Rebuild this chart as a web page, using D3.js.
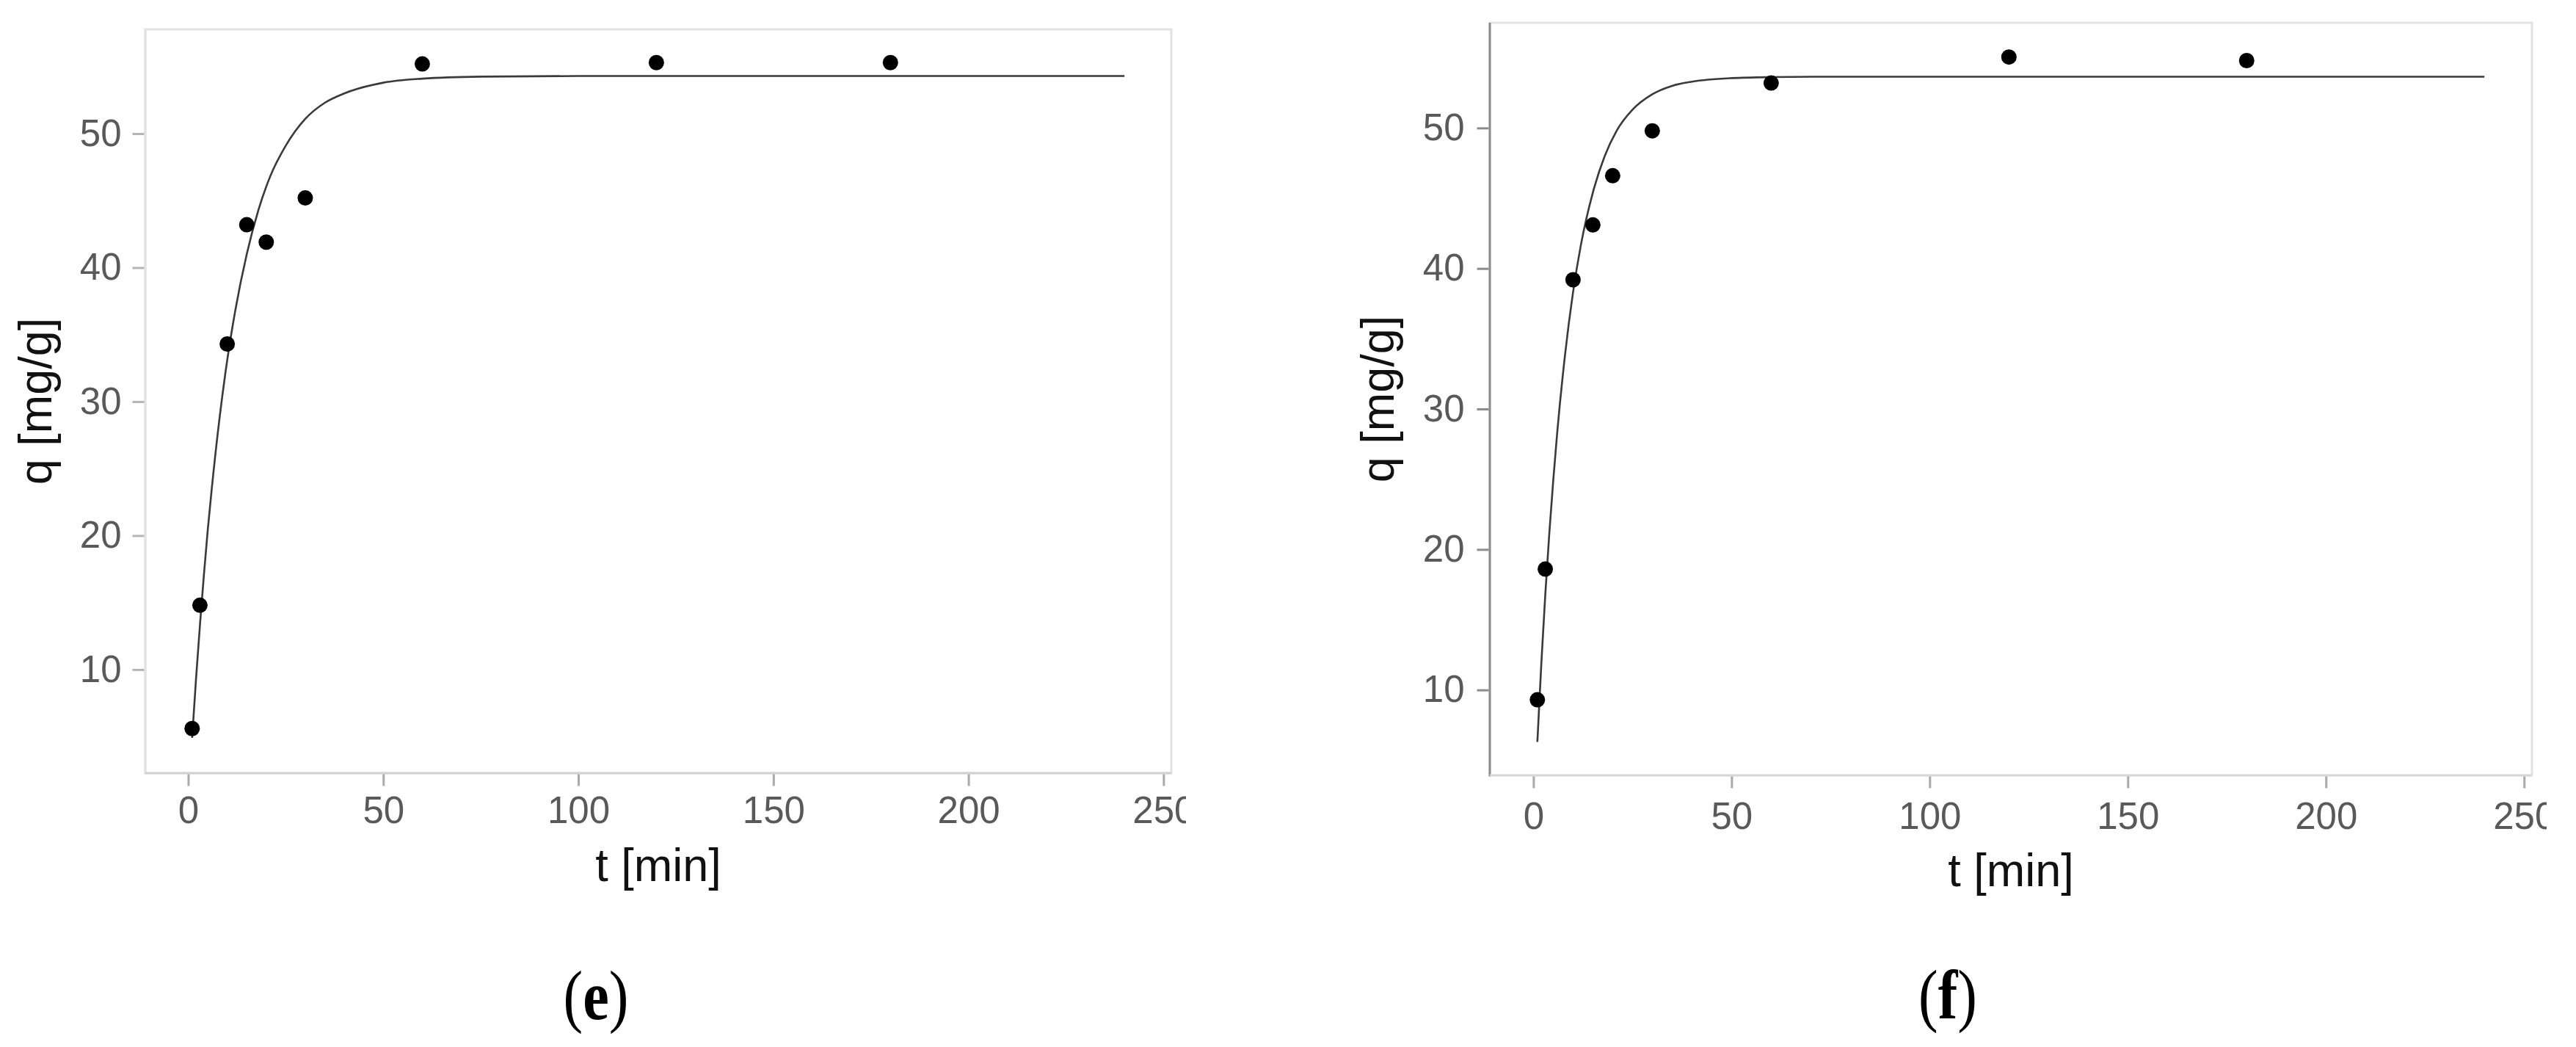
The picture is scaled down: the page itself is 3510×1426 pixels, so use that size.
<!DOCTYPE html>
<html lang="en">
  <head>
    <meta charset="UTF-8" />
    <title>Kinetics q vs t (e), (f)</title>
    <script src="https://d3js.org/d3.v7.min.js"></script>
    <style>
      body {
        margin: 0;
        background: #fff;
      }
      svg text {
        font-family: "Liberation Sans", Arial, sans-serif;
      }
      .tick text {
        fill: #595959;
      }
      .axis-title {
        fill: #111;
      }
      .panel-label {
        font-family: "Liberation Serif", "Times New Roman", serif !important;
        fill: #000;
      }
    </style>
  </head>
  <body>
    <svg width="3510" height="1426"></svg>

    <script>
      // measured data points (t in min, q in mg/g)
      const timeE = [1, 3, 10, 15, 20, 30, 60, 120, 180];
      const qE = [5.6, 14.8, 34.3, 43.2, 41.9, 45.2, 55.2, 55.3, 55.3];

      const timeF = [1, 3, 10, 15, 20, 30, 60, 120, 180];
      const qF = [9.3, 18.6, 39.2, 43.1, 46.6, 49.8, 53.2, 55.05, 54.8];

      // fitted curves
      const fitTime = [1, 2, 3, 4, 5, 6, 8, 10, 12, 15, 18, 21, 25, 30, 35, 40, 50, 60, 75, 100, 150, 200, 240];
      const fitE = [4.9, 9.3, 13.3, 17.0, 20.4, 23.4, 28.7, 33.1, 36.7, 41.0, 44.3, 46.8, 49.1, 51.1, 52.3, 53.0, 53.8, 54.1, 54.25, 54.3, 54.3, 54.3, 54.3];
      const fitF = [6.3, 11.9, 16.8, 21.1, 24.9, 28.3, 33.9, 38.3, 41.7, 45.4, 48.0, 49.8, 51.3, 52.4, 53.0, 53.3, 53.55, 53.62, 53.65, 53.65, 53.65, 53.65, 53.65];

      const xTicks = [0, 50, 100, 150, 200, 250];
      const yTicks = [10, 20, 30, 40, 50];

      const svg = d3.select("svg");

      const panels = [
        {
          id: "e",
          time: timeE, q: qE, fit: fitE,
          left: 198, right: 1596, top: 40, bottom: 1053,
          xDomain: [-11, 252], yDomain: [2.27, 57.78],
          clipLeft: 0, clipRight: 1616,
          xPad: 14, yPad: 15,
          yTitleX: 70, xTitleY: 1200,
          leftBorder: "#e2e2e2", bottomBorder: "#d2d2d2",
          yTickColor: "#b5b5b5",
          label: { x: 812, y: 1388 },
        },
        {
          id: "f",
          time: timeF, q: qF, fit: fitF,
          left: 2030, right: 3450, top: 31, bottom: 1056,
          xDomain: [-11, 252], yDomain: [3.92, 57.49],
          clipLeft: 1760, clipRight: 3470,
          xPad: 19, yPad: 17,
          yTitleX: 1899, xTitleY: 1207,
          leftBorder: "#8c8c8c", bottomBorder: "#d8d8d8",
          yTickColor: "#8c8c8c",
          label: { x: 2654, y: 1387 },
        },
      ];

      const tickFont = 51;
      const titleFont = 63;

      panels.forEach((p) => {
        const clipId = "clip-" + p.id;
        svg
          .append("clipPath")
          .attr("id", clipId)
          .append("rect")
          .attr("x", p.clipLeft)
          .attr("y", 0)
          .attr("width", p.clipRight - p.clipLeft)
          .attr("height", 1426);

        const g = svg.append("g").attr("clip-path", `url(#${clipId})`);

        const x = d3.scaleLinear().domain(p.xDomain).range([p.left, p.right]);
        const y = d3.scaleLinear().domain(p.yDomain).range([p.bottom, p.top]);

        // panel frame
        g.append("rect")
          .attr("x", p.left)
          .attr("y", p.top)
          .attr("width", p.right - p.left)
          .attr("height", p.bottom - p.top)
          .attr("fill", "none")
          .attr("stroke", "#e2e2e2")
          .attr("stroke-width", 3);

        g.append("line")
          .attr("x1", p.left).attr("x2", p.left)
          .attr("y1", p.top).attr("y2", p.bottom + 1.5)
          .attr("stroke", p.leftBorder)
          .attr("stroke-width", 3);

        g.append("line")
          .attr("x1", p.left).attr("x2", p.right)
          .attr("y1", p.bottom).attr("y2", p.bottom)
          .attr("stroke", p.bottomBorder)
          .attr("stroke-width", 3);

        // x axis
        const xAxis = g
          .append("g")
          .attr("transform", `translate(0,${p.bottom + 1.5})`)
          .call(
            d3.axisBottom(x).tickValues(xTicks).tickSize(16).tickPadding(p.xPad).tickFormat(d3.format("d"))
          );
        xAxis.select(".domain").remove();
        xAxis.selectAll(".tick line").attr("stroke", "#aaaaaa").attr("stroke-width", 3);
        xAxis.selectAll(".tick text").attr("font-size", tickFont);

        // y axis
        const yAxis = g
          .append("g")
          .attr("transform", `translate(${p.left - 1.5},0)`)
          .call(
            d3.axisLeft(y).tickValues(yTicks).tickSize(16).tickPadding(p.yPad).tickFormat(d3.format("d"))
          );
        yAxis.select(".domain").remove();
        yAxis.selectAll(".tick line").attr("stroke", p.yTickColor).attr("stroke-width", 3);
        yAxis.selectAll(".tick text").attr("font-size", tickFont);

        // fitted curve
        const line = d3
          .line()
          .x((d, i) => x(fitTime[i]))
          .y((d) => y(d))
          .curve(d3.curveMonotoneX);

        g.append("path")
          .datum(p.fit)
          .attr("d", line)
          .attr("fill", "none")
          .attr("stroke", "#3a3a3a")
          .attr("stroke-width", 2.6);

        // points
        g.append("g")
          .selectAll("circle")
          .data(p.q)
          .enter()
          .append("circle")
          .attr("cx", (d, i) => x(p.time[i]))
          .attr("cy", (d) => y(d))
          .attr("r", 10.5)
          .attr("fill", "#000");

        // axis titles
        g.append("text")
          .attr("class", "axis-title")
          .attr("x", (p.left + p.right) / 2)
          .attr("y", p.xTitleY)
          .attr("text-anchor", "middle")
          .attr("font-size", titleFont)
          .text("t [min]");

        g.append("text")
          .attr("class", "axis-title")
          .attr("transform", `translate(${p.yTitleX},${(p.top + p.bottom) / 2}) rotate(-90)`)
          .attr("text-anchor", "middle")
          .attr("font-size", titleFont)
          .text("q [mg/g]");

        // panel label (e) / (f)
        const lab = svg
          .append("text")
          .attr("class", "panel-label")
          .attr("transform", `translate(${p.label.x},${p.label.y}) scale(1,1.2)`)
          .attr("text-anchor", "middle")
          .attr("font-size", 80);
        lab.append("tspan").text("(");
        lab.append("tspan").attr("font-weight", "bold").text(p.id);
        lab.append("tspan").text(")");
      });
    </script>
  </body>
</html>
